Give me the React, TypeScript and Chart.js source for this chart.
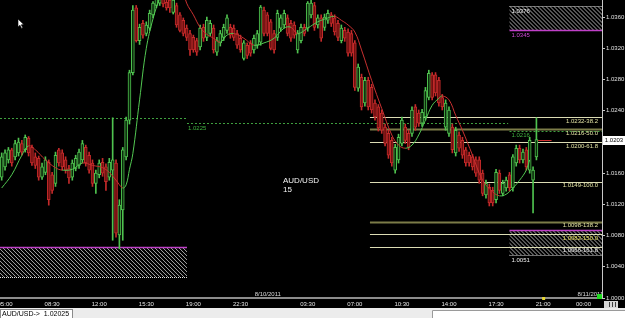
import React, { useEffect, useRef } from 'react';
import { Chart, registerables } from 'chart.js';
Chart.register(...registerables);

// ---- time slots (15 min candles, 8/9 04:45 .. 8/11 01:15) ----
const SLOTS = 179;
const categories: string[] = [];
for (let i = 0; i < SLOTS; i++) {
  const m = 4 * 60 + 45 + i * 15;
  const day = 9 + Math.floor(m / 1440);
  const mm = m % 1440;
  categories.push(`8/${day} ${String(Math.floor(mm / 60)).padStart(2, '0')}:${String(mm % 60).padStart(2, '0')}`);
}
const shownTicks = ['8/9 05:00', '8/9 08:30', '8/9 12:00', '8/9 15:30', '8/9 19:00', '8/9 22:30', '8/10 03:30', '8/10 07:00', '8/10 10:30', '8/10 14:00', '8/10 17:30', '8/10 21:00', '8/11 00:00'];
const dateMarks = ['8/10 00:00', '8/11 00:00'];
const dateTexts = ['8/10/2011', '8/11/2011'];

// ---- OHLC ----
const openP = [1.0155,1.0168,1.0177,1.0190,1.0181,1.0186,1.0198,1.0190,1.0205,1.0193,
1.0181,1.0179,1.0155,1.0161,1.0174,1.0158,1.0147,1.0190,1.0186,1.0177,
1.0166,1.0155,1.0166,1.0170,1.0177,1.0193,1.0183,1.0173,1.0147,1.0158,
1.0174,1.0168,1.0155,1.0164,1.0173,1.0081,1.0113,1.0181,1.0228,1.0289,
1.0372,1.0330,1.0352,1.0339,1.0346,1.0363,1.0375,1.0378,1.0384,1.0379,
1.0382,1.0366,1.0375,1.0363,1.0356,1.0346,1.0339,1.0334,1.0330,1.0322,
1.0347,1.0334,1.0339,1.0346,1.0315,1.0327,1.0334,1.0343,1.0347,1.0346,
1.0339,1.0333,1.0307,1.0324,1.0327,1.0318,1.0324,1.0328,1.0369,1.0363,
1.0354,1.0339,1.0334,1.0346,1.0350,1.0359,1.0352,1.0350,1.0318,1.0330,
1.0347,1.0346,1.0363,1.0375,1.0350,1.0359,1.0347,1.0356,1.0363,1.0359,
1.0352,1.0330,1.0343,1.0341,1.0339,1.0327,1.0269,1.0283,1.0250,1.0279,
1.0270,1.0250,1.0245,1.0237,1.0219,1.0211,1.0202,1.0164,1.0177,1.0198,
1.0219,1.0211,1.0211,1.0245,1.0237,1.0224,1.0232,1.0257,1.0286,1.0286,
1.0279,1.0257,1.0219,1.0211,1.0219,1.0186,1.0209,1.0202,1.0190,1.0183,
1.0181,1.0177,1.0177,1.0160,1.0132,1.0142,1.0138,1.0126,1.0160,1.0134,
1.0141,1.0158,1.0141,1.0173,1.0192,1.0177,1.0190,1.0164,1.0151,1.0181];
const highP = [1.0186,1.0190,1.0193,1.0192,1.0202,1.0205,1.0202,1.0209,1.0207,1.0196,
1.0186,1.0182,1.0173,1.0181,1.0177,1.0161,1.0187,1.0192,1.0190,1.0181,
1.0170,1.0177,1.0183,1.0191,1.0202,1.0196,1.0187,1.0177,1.0164,1.0177,
1.0179,1.0172,1.0179,1.0231,1.0177,1.0126,1.0193,1.0232,1.0292,1.0375,
1.0375,1.0351,1.0356,1.0354,1.0369,1.0380,1.0388,1.0389,1.0388,1.0382,
1.0386,1.0386,1.0378,1.0366,1.0359,1.0350,1.0343,1.0337,1.0333,1.0350,
1.0351,1.0360,1.0356,1.0350,1.0334,1.0343,1.0351,1.0363,1.0351,1.0350,
1.0343,1.0337,1.0330,1.0327,1.0330,1.0337,1.0343,1.0375,1.0373,1.0366,
1.0357,1.0343,1.0369,1.0363,1.0369,1.0363,1.0356,1.0354,1.0343,1.0351,
1.0351,1.0380,1.0382,1.0379,1.0363,1.0363,1.0364,1.0369,1.0366,1.0363,
1.0356,1.0350,1.0347,1.0345,1.0343,1.0330,1.0300,1.0287,1.0283,1.0283,
1.0274,1.0254,1.0248,1.0241,1.0223,1.0215,1.0206,1.0197,1.0210,1.0232,
1.0223,1.0215,1.0245,1.0248,1.0241,1.0242,1.0270,1.0292,1.0289,1.0289,
1.0283,1.0261,1.0254,1.0245,1.0223,1.0219,1.0213,1.0206,1.0193,1.0187,
1.0184,1.0181,1.0181,1.0164,1.0151,1.0146,1.0142,1.0165,1.0164,1.0151,
1.0155,1.0161,1.0184,1.0196,1.0196,1.0191,1.0193,1.0206,1.0168,1.0231];
const lowP = [1.0151,1.0164,1.0173,1.0169,1.0177,1.0182,1.0183,1.0187,1.0182,1.0170,
1.0166,1.0151,1.0152,1.0158,1.0119,1.0134,1.0143,1.0169,1.0164,1.0160,
1.0147,1.0151,1.0163,1.0166,1.0173,1.0169,1.0160,1.0143,1.0134,1.0154,
1.0156,1.0138,1.0151,1.0074,1.0078,1.0063,1.0074,1.0177,1.0223,1.0286,
1.0328,1.0325,1.0333,1.0336,1.0343,1.0359,1.0372,1.0375,1.0373,1.0369,
1.0366,1.0364,1.0347,1.0341,1.0336,1.0330,1.0311,1.0315,1.0311,1.0318,
1.0329,1.0330,1.0336,1.0314,1.0311,1.0323,1.0330,1.0339,1.0333,1.0330,
1.0320,1.0315,1.0305,1.0307,1.0310,1.0314,1.0320,1.0324,1.0336,1.0336,
1.0318,1.0314,1.0330,1.0342,1.0346,1.0336,1.0329,1.0333,1.0314,1.0327,
1.0336,1.0342,1.0359,1.0343,1.0346,1.0329,1.0343,1.0352,1.0348,1.0337,
1.0330,1.0327,1.0329,1.0310,1.0310,1.0266,1.0265,1.0241,1.0246,1.0241,
1.0237,1.0228,1.0214,1.0211,1.0195,1.0179,1.0169,1.0160,1.0173,1.0195,
1.0198,1.0190,1.0207,1.0215,1.0220,1.0220,1.0228,1.0254,1.0254,1.0259,
1.0246,1.0241,1.0215,1.0207,1.0186,1.0182,1.0188,1.0179,1.0169,1.0169,
1.0164,1.0156,1.0147,1.0131,1.0128,1.0118,1.0118,1.0122,1.0134,1.0131,
1.0137,1.0137,1.0137,1.0169,1.0173,1.0173,1.0164,1.0160,1.0109,1.0177];
const closeP = [1.0181,1.0186,1.0190,1.0173,1.0198,1.0200,1.0187,1.0206,1.0186,1.0173,
1.0170,1.0155,1.0168,1.0177,1.0126,1.0138,1.0183,1.0173,1.0168,1.0164,
1.0154,1.0173,1.0179,1.0187,1.0198,1.0173,1.0164,1.0147,1.0160,1.0173,
1.0160,1.0149,1.0174,1.0177,1.0083,1.0119,1.0190,1.0228,1.0289,1.0369,
1.0330,1.0347,1.0337,1.0350,1.0365,1.0378,1.0384,1.0386,1.0377,1.0372,
1.0372,1.0382,1.0350,1.0343,1.0339,1.0334,1.0318,1.0318,1.0315,1.0346,
1.0333,1.0356,1.0352,1.0318,1.0330,1.0339,1.0347,1.0359,1.0337,1.0334,
1.0324,1.0318,1.0327,1.0311,1.0314,1.0333,1.0339,1.0373,1.0339,1.0339,
1.0320,1.0318,1.0365,1.0359,1.0365,1.0339,1.0333,1.0337,1.0339,1.0347,
1.0339,1.0378,1.0378,1.0347,1.0359,1.0333,1.0360,1.0365,1.0352,1.0341,
1.0334,1.0346,1.0333,1.0314,1.0314,1.0270,1.0296,1.0245,1.0279,1.0245,
1.0241,1.0232,1.0218,1.0215,1.0198,1.0183,1.0173,1.0193,1.0206,1.0228,
1.0202,1.0193,1.0241,1.0219,1.0224,1.0238,1.0266,1.0288,1.0257,1.0263,
1.0250,1.0245,1.0250,1.0241,1.0190,1.0215,1.0192,1.0183,1.0173,1.0173,
1.0168,1.0160,1.0151,1.0134,1.0147,1.0122,1.0122,1.0161,1.0138,1.0147,
1.0151,1.0141,1.0181,1.0192,1.0177,1.0187,1.0168,1.0202,1.0164,1.0203];

// ---- moving average (slope coloured), read at sample candles ----
const maIndex = [0,3,6,8,10,13,16,18,21,24,27,30,32,34,36,37,38,39,41,43,45,47,50,53,55,57,59,61,63,65,67,69,72,75,78,81,84,86,88,91,94,97,99,101,103,105,107,110,113,116,118,120,122,124,126,128,130,131,133,135,137,140,143,146,148,150,152,154,156,157];
const maValue = [1.0141,1.0158,1.0183,1.0195,1.0190,1.0177,1.0167,1.0164,1.0165,1.0173,1.0170,1.0167,1.0161,1.0151,1.0141,1.0145,1.0165,1.0185,1.0254,1.0320,1.0358,1.0385,1.0420,1.0405,1.0378,1.0363,1.0347,1.0338,1.0333,1.0328,1.0337,1.0339,1.0333,1.0324,1.0327,1.0333,1.0346,1.0347,1.0339,1.0346,1.0354,1.0359,1.0361,1.0356,1.0350,1.0341,1.0318,1.0279,1.0243,1.0209,1.0196,1.0192,1.0196,1.0209,1.0228,1.0247,1.0256,1.0259,1.0254,1.0234,1.0215,1.0183,1.0151,1.0136,1.0131,1.0133,1.0141,1.0151,1.0164,1.0177];

// ---- levels ----
const fibPrices = [1.0232, 1.0216, 1.0200, 1.0149, 1.0098, 1.0082, 1.0066];
const fibLabels = ['1.0232-38.2', '1.0216-50.0', '1.0200-61.8', '1.0149-100.0', '1.0098-138.2', '1.0082-150.0', '1.0066-161.8'];
const fibStartIndex = 109.5;
const currentPrice = 1.0203;

const FONT = '"Liberation Sans", Arial, sans-serif';
const G = '#4fc24f', GF = '#0b2a0b', R = '#c42a2a', RF = '#6e1010';
const MA_UP = '#52c852', MA_DOWN = '#c83030';

const isUp = openP.map((o, i) => closeP[i] >= o);
const wickData = highP.map((h, i) => [lowP[i], h]);
const bodyData = openP.map((o, i) => [Math.min(o, closeP[i]), Math.max(o, closeP[i])]);
const maData = maIndex.map((ix, k) => ({ x: categories[ix], y: maValue[k] }));

function hatch(ctx: CanvasRenderingContext2D, x0: number, y0: number, x1: number, y1: number) {
  ctx.save();
  ctx.beginPath(); ctx.rect(x0, y0, x1 - x0, y1 - y0); ctx.clip();
  ctx.strokeStyle = '#a8a8a8'; ctx.lineWidth = 1;
  const h = y1 - y0;
  for (let x = x0 - h; x < x1 + h; x += 4) {
    ctx.beginPath(); ctx.moveTo(x, y0); ctx.lineTo(x + h, y1); ctx.stroke();
  }
  ctx.restore();
}

function hline(ctx: CanvasRenderingContext2D, x0: number, x1: number, y: number, color: string, w: number, dash: number[] = []) {
  ctx.save();
  ctx.strokeStyle = color; ctx.lineWidth = w; ctx.setLineDash(dash);
  ctx.beginPath(); ctx.moveTo(x0, Math.round(y) + 0.5); ctx.lineTo(x1, Math.round(y) + 0.5); ctx.stroke();
  ctx.restore();
}

const overlay = {
  id: 'overlay',
  beforeDraw(chart: any) {
    const c = chart.ctx; c.save(); c.fillStyle = '#000'; c.fillRect(0, 0, chart.width, chart.height); c.restore();
  },
  beforeDatasetsDraw(chart: any) {
    const c: CanvasRenderingContext2D = chart.ctx;
    const xs = chart.scales.x, ys = chart.scales.y, a = chart.chartArea;
    const X = (i: number) => xs.getPixelForValue(i);
    const Y = (p: number) => ys.getPixelForValue(p);
    c.save();
    c.beginPath(); c.rect(a.left, a.top, a.right - a.left, a.bottom - a.top); c.clip();
    const zones = [
      { x0: X(151), x1: a.right, top: Y(1.0374), bot: Y(1.03435), mag: 'bottom' },
      { x0: a.left, x1: X(55.1), top: Y(1.00655), bot: Y(1.0027), mag: 'top' },
      { x0: X(151), x1: a.right, top: Y(1.0087), bot: Y(1.0055), mag: 'top' },
    ];
    zones.forEach(z => {
      hatch(c, z.x0, z.top, z.x1, z.bot);
      const magY = z.mag === 'top' ? z.top : z.bot;
      const dotY = z.mag === 'top' ? z.bot : z.top;
      hline(c, z.x0, z.x1, dotY, '#e0e0e0', 1, [1, 1]);
      hline(c, z.x0, z.x1, magY, '#c040c8', 1.5);
    });
    hline(c, a.left, X(55.1), Y(1.0231), '#3fa03f', 1, [2, 2]);
    hline(c, X(55.1), X(150.6), Y(1.0224), '#3fa03f', 1, [2, 2]);
    hline(c, X(151), a.right, Y(1.0214), '#3fa03f', 1, [2, 2]);
    fibPrices.forEach((p, k) => {
      const olive = k === 1 || k === 4;
      hline(c, X(fibStartIndex), a.right, Y(p), olive ? '#7c7c48' : '#dcdcb4', olive ? 2 : 1);
    });
    c.restore();
  },
  afterDatasetsDraw(chart: any) {
    const c: CanvasRenderingContext2D = chart.ctx;
    const xs = chart.scales.x, ys = chart.scales.y, a = chart.chartArea;
    const X = (i: number) => xs.getPixelForValue(i);
    const Y = (p: number) => ys.getPixelForValue(p);
    c.save();
    c.font = `6px ${FONT}`;
    c.textBaseline = 'top';
    c.textAlign = 'right';
    fibPrices.forEach((p, k) => {
      c.fillStyle = k === 5 ? '#e6de58' : (k === 6 ? '#e8e8e8' : '#e4e4a4');
      c.fillText(fibLabels[k], a.right - 4, Y(p) + 1);
    });
    c.textAlign = 'left';
    c.fillStyle = '#f0f0f0'; c.fillText('1.0376', X(151) + 2, Y(1.0374) + 2);
    c.fillStyle = '#d048d8'; c.fillText('1.0345', X(151) + 2, Y(1.03435) + 2);
    c.fillStyle = '#f0f0f0'; c.fillText('1.0051', X(151) + 2, Y(1.0055) + 2);
    c.fillStyle = '#3fb03f';
    c.fillText('1.0225', X(55.1) + 1, Y(1.0224) + 2);
    c.fillText('1.0216', X(151) + 2, Y(1.0214) + 1);
    hline(c, X(159.5), X(163.5), Y(currentPrice), '#d03030', 1);
    c.font = `8px ${FONT}`;
    c.fillStyle = '#f4f4f4';
    c.fillText('AUD/USD', a.left + 283, a.top + 177);
    c.fillText('15', a.left + 283, a.top + 186);
    c.font = `6px ${FONT}`;
    c.fillStyle = '#d8d8d8';
    c.textBaseline = 'bottom';
    dateMarks.forEach((d, k) => {
      const ix = categories.indexOf(d);
      c.fillText(dateTexts[k], X(ix) - 6, a.bottom - 1);
    });
    c.restore();
  },
  afterDraw(chart: any) {
    const c: CanvasRenderingContext2D = chart.ctx;
    const ys = chart.scales.y, xs = chart.scales.x, a = chart.chartArea;
    c.save();
    c.font = `6px ${FONT}`;
    c.fillStyle = '#e4e4e4';
    c.textAlign = 'center'; c.textBaseline = 'middle';
    shownTicks.forEach(t => {
      const ix = categories.indexOf(t);
      c.fillText(t.split(' ')[1], xs.getPixelForValue(ix), a.bottom + 6);
    });
    const py = ys.getPixelForValue(currentPrice);
    c.fillStyle = '#ffffff';
    c.fillRect(a.right + 1, Math.round(py) - 4, 22, 9);
    c.fillStyle = '#000';
    c.fillText('1.0203', a.right + 12, Math.round(py) + 0.5);
    c.fillStyle = '#22dd22'; c.fillRect(a.right - 5, a.bottom - 4, 5, 5);
    c.fillStyle = '#e8d830'; c.fillRect(xs.getPixelForValue(161) - 1, a.bottom - 1, 3, 3);
    c.fillStyle = '#d8d8d8'; c.fillRect(a.right + 2, a.bottom + 3, 14, 7);
    c.strokeStyle = '#404040'; c.lineWidth = 1;
    [5, 8, 11].forEach(dx => { c.beginPath(); c.moveTo(a.right + 2 + dx + 0.5, a.bottom + 4); c.lineTo(a.right + 2 + dx + 0.5, a.bottom + 9); c.stroke(); });
    const sb = chart.height - 10;
    c.fillStyle = '#ececec'; c.fillRect(0, sb, chart.width, 10);
    c.fillStyle = '#ffffff'; c.fillRect(0, sb + 1, 73, 9);
    c.strokeStyle = '#8a8a8a'; c.strokeRect(0.5, sb + 1.5, 72, 9);
    c.fillStyle = '#ffffff'; c.fillRect(432, sb + 2, 193, 8);
    c.strokeStyle = '#9a9a9a'; c.beginPath(); c.moveTo(432.5, sb + 10); c.lineTo(432.5, sb + 2.5); c.lineTo(625, sb + 2.5); c.stroke();
    c.fillStyle = '#000'; c.font = `7px ${FONT}`; c.textAlign = 'left'; c.textBaseline = 'middle';
    c.fillText('AUD/USD->  1.02025', 2, sb + 6);
    c.beginPath();
    c.moveTo(18, 19); c.lineTo(18, 27); c.lineTo(20, 25.2); c.lineTo(21.6, 28.4); c.lineTo(22.8, 27.8);
    c.lineTo(21.3, 24.8); c.lineTo(23.8, 24.6); c.closePath();
    c.fillStyle = '#ffffff'; c.fill(); c.strokeStyle = '#000'; c.lineWidth = 0.6; c.stroke();
    c.restore();
  },
};

export default function App() {
  const ref = useRef<HTMLCanvasElement>(null);
  useEffect(() => {
    document.body.style.margin = '0';
    document.body.style.background = '#000';
    const chart = new Chart(ref.current as HTMLCanvasElement, {
      type: 'bar',
      data: {
        labels: categories,
        datasets: [
          {
            type: 'line',
            label: 'MA',
            data: maData,
            tension: 0.4,
            pointRadius: 0,
            borderWidth: 1,
            borderColor: MA_UP,
            segment: {
              borderColor: (ctx: any) => (maValue[ctx.p1DataIndex] >= maValue[ctx.p0DataIndex] ? MA_UP : MA_DOWN),
            },
            order: 0,
          } as any,
          {
            label: 'wick',
            data: wickData as any,
            backgroundColor: isUp.map(u => (u ? G : R)),
            barThickness: 1,
            grouped: false,
            order: 2,
          } as any,
          {
            label: 'body',
            data: bodyData as any,
            backgroundColor: isUp.map(u => (u ? GF : RF)),
            borderColor: isUp.map(u => (u ? G : R)),
            borderWidth: 1,
            borderSkipped: false,
            barThickness: 3,
            grouped: false,
            order: 1,
          } as any,
        ],
      },
      options: {
        animation: false,
        responsive: false,
        maintainAspectRatio: false,
        devicePixelRatio: 1,
        layout: { padding: { left: 0, right: 0, top: 0, bottom: 10 } },
        plugins: { legend: { display: false }, tooltip: { enabled: false } },
        scales: {
          x: {
            type: 'category',
            offset: true,
            grid: { display: false },
            border: { display: true, color: '#8c8c8c', width: 2 },
            ticks: { display: false },
            afterFit: (s: any) => { s.height = 10; s.paddingLeft = 0; s.paddingRight = 0; },
          },
          y: {
            type: 'linear',
            position: 'right',
            min: 1.0,
            max: 1.0382,
            grid: { drawOnChartArea: false, drawTicks: true, tickLength: 3, color: '#c8c8c8' },
            border: { display: true, color: '#c8c8c8' },
            ticks: {
              stepSize: 0.004,
              color: '#e0e0e0',
              padding: 1,
              font: { size: 6, family: FONT },
              callback: (v: any) => Number(v).toFixed(4),
            },
            afterBuildTicks: (s: any) => {
              s.ticks = s.ticks.filter((t: any) => Math.abs(t.value * 250 - Math.round(t.value * 250)) < 1e-6);
            },
            afterFit: (s: any) => { s.width = 23; s.paddingTop = 0; s.paddingBottom = 0; },
          },
        },
      } as any,
      plugins: [overlay],
    });
    return () => chart.destroy();
  }, []);
  return (
    <div style={{ width: 625, height: 318 }}>
      <canvas ref={ref} width={625} height={318} style={{ display: 'block' }} />
    </div>
  );
}
